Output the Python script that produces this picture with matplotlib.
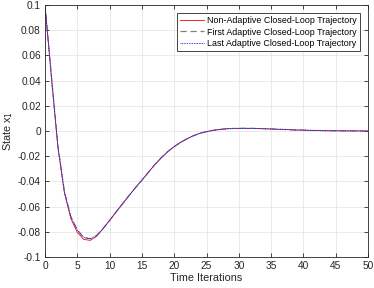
import matplotlib
matplotlib.use("Agg")
import matplotlib.pyplot as plt
import numpy as np

plt.rcParams['font.family'] = ['Liberation Sans', 'DejaVu Sans']

t = list(range(0, 51))
non_adaptive = [0.1, 0.042, -0.013, -0.049, -0.0695, -0.0805, -0.086, -0.0868, -0.0835, -0.0775,
                -0.071, -0.0643, -0.0578, -0.0513, -0.045, -0.039, -0.0328, -0.0267, -0.0212, -0.0164,
                -0.0124, -0.009, -0.0061, -0.0037, -0.0018, -0.0005, 0.0005, 0.0012, 0.0017, 0.002,
                0.0021, 0.0021, 0.0021, 0.0020, 0.0018, 0.0016, 0.0014, 0.0012, 0.0010, 0.0008,
                0.0007, 0.0005, 0.0004, 0.0003, 0.0002, 0.0002, 0.0001, 0.0001, 0.0001, 0.0, 0.0]
first_adaptive = [0.1, 0.043, -0.012, -0.048, -0.068, -0.0785, -0.0845, -0.0855, -0.083, -0.0773,
                  -0.071, -0.0643, -0.0578, -0.0513, -0.045, -0.039, -0.0328, -0.0267, -0.0212, -0.0164,
                  -0.0124, -0.009, -0.0061, -0.0037, -0.0018, -0.0005, 0.0005, 0.0012, 0.0017, 0.002,
                  0.0021, 0.0021, 0.0021, 0.0020, 0.0018, 0.0016, 0.0014, 0.0012, 0.0010, 0.0008,
                  0.0007, 0.0005, 0.0004, 0.0003, 0.0002, 0.0002, 0.0001, 0.0001, 0.0001, 0.0, 0.0]
last_adaptive = [0.1, 0.043, -0.012, -0.048, -0.068, -0.0785, -0.0845, -0.0855, -0.083, -0.0773,
                 -0.071, -0.0643, -0.0578, -0.0513, -0.045, -0.039, -0.0328, -0.0267, -0.0212, -0.0164,
                 -0.0124, -0.009, -0.0061, -0.0037, -0.0018, -0.0005, 0.0005, 0.0012, 0.0017, 0.002,
                 0.0021, 0.0021, 0.0021, 0.0020, 0.0018, 0.0016, 0.0014, 0.0012, 0.0010, 0.0008,
                 0.0007, 0.0005, 0.0004, 0.0003, 0.0002, 0.0002, 0.0001, 0.0001, 0.0001, 0.0, 0.0]

labels = ["Non-Adaptive Closed-Loop Trajectory",
          "First Adaptive Closed-Loop Trajectory",
          "Last Adaptive Closed-Loop Trajectory"]
xticks = list(range(0, 51, 5))
yticks = [-0.1, -0.08, -0.06, -0.04, -0.02, 0, 0.02, 0.04, 0.06, 0.08, 0.1]
ytick_labels = ["-0.1", "-0.08", "-0.06", "-0.04", "-0.02", "0", "0.02", "0.04", "0.06", "0.08", "0.1"]

fig = plt.figure(figsize=(3.74, 2.88), dpi=100)
ax = fig.add_axes([45/374, 31/288, 323/374, 252/288])

ax.plot(t, non_adaptive, color='#ff0000', lw=0.6, label=labels[0])
ax.plot(t, first_adaptive, color='#808080', lw=0.9, ls=(0, (5, 3)), label=labels[1])
ax.plot(t, last_adaptive, color='#0000ff', lw=0.6, ls=(0, (1, 1)), label=labels[2])

ax.set_xlim(0, 50)
ax.set_ylim(-0.1, 0.1)
ax.set_xticks(xticks)
ax.set_yticks(yticks)
ax.set_yticklabels(ytick_labels)
ax.grid(True, color='#e6e6e6', lw=0.6)
ax.set_axisbelow(True)
ax.tick_params(direction='in', length=3, width=0.6, top=True, right=True,
               labelsize=7.3, colors='#262626', pad=3)
for s in ax.spines.values():
    s.set_color('#262626')
    s.set_linewidth(0.6)
ax.set_xlabel("Time Iterations", fontsize=7.8, color='#262626', labelpad=1)
ax.set_ylabel("State x$_1$", fontsize=7.8, color='#262626', labelpad=2)

leg = ax.legend(loc='upper right', fontsize=6.4, frameon=True, fancybox=False,
                edgecolor='#262626', framealpha=1, borderpad=0.35, labelspacing=0.28,
                handlelength=2.6, handletextpad=0.4, borderaxespad=0.9)
leg.get_frame().set_linewidth(0.6)

fig.savefig("out.png", dpi=100)
